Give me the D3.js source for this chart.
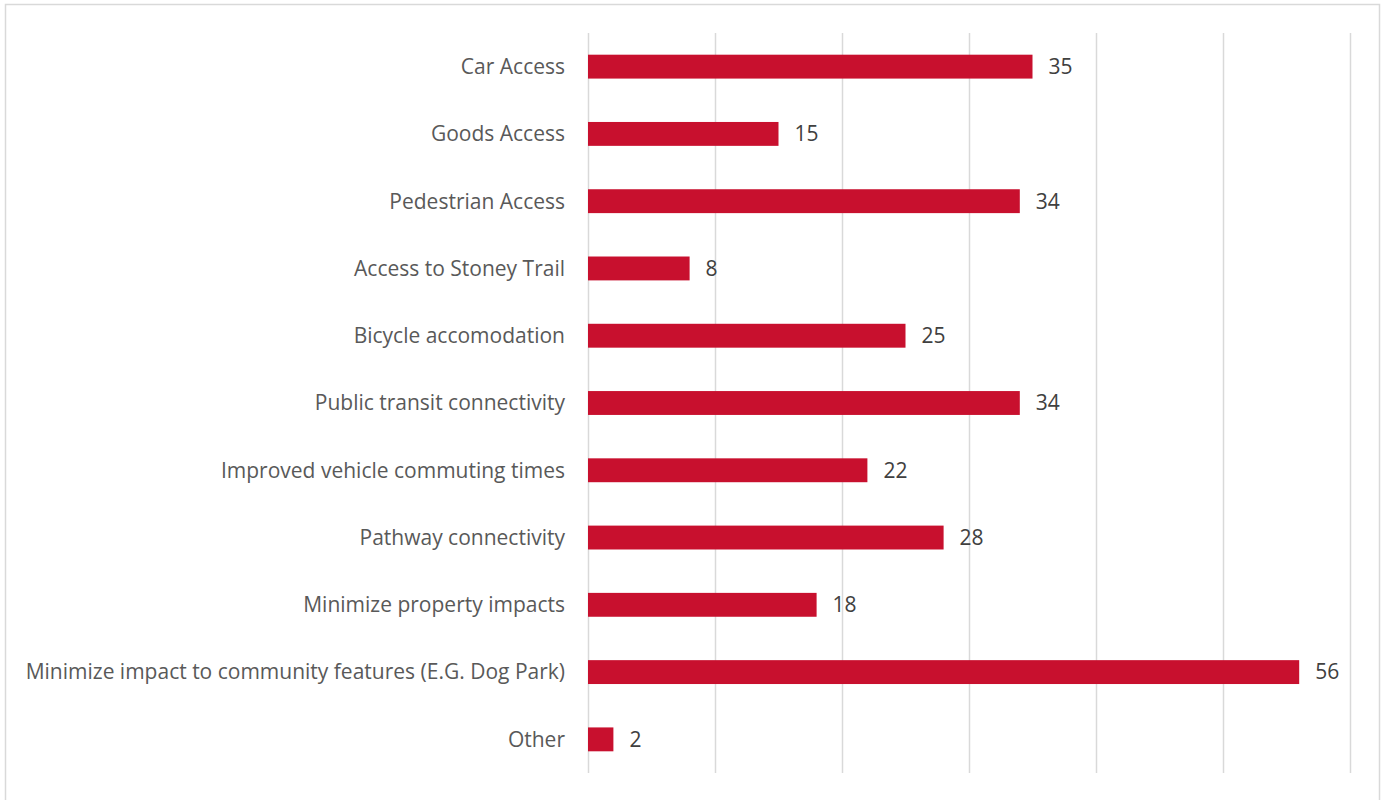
<!DOCTYPE html>
<html>
<head>
<meta charset="utf-8">
<script src="https://cdn.jsdelivr.net/npm/d3@7"></script>
<style>
  html, body { margin: 0; padding: 0; background: #fff; }
  svg { display: block; }
</style>
</head>
<body>
<svg id="chart" width="1383" height="800"></svg>
<script>
const categories = [
  "Car Access",
  "Goods Access",
  "Pedestrian Access",
  "Access to Stoney Trail",
  "Bicycle accomodation",
  "Public transit connectivity",
  "Improved vehicle commuting times",
  "Pathway connectivity",
  "Minimize property impacts",
  "Minimize impact to community features (E.G. Dog Park)",
  "Other"
];
const values = [35, 15, 34, 8, 25, 34, 22, 28, 18, 56, 2];
const xTicks = [0, 10, 20, 30, 40, 50, 60];

const svg = d3.select("#chart");
const font = "'Open Sans', 'DejaVu Sans', sans-serif";

// chart border
svg.append("rect")
  .attr("x", 5.5).attr("y", 4.5)
  .attr("width", 1374).attr("height", 800)
  .attr("fill", "#fff")
  .attr("stroke", "#d9d9d9").attr("stroke-width", 1.5);

const plotL = 588, plotR = 1350, plotT = 33, plotB = 773;

const x = d3.scaleLinear().domain([0, 60]).range([plotL, plotR]);
const y = d3.scaleBand().domain(categories).range([plotT, plotB]).paddingInner(0.645).paddingOuter(0.3225);

// gridlines
svg.append("g")
  .selectAll("line")
  .data(xTicks)
  .join("line")
  .attr("x1", d => Math.round(x(d)) + 0.5)
  .attr("x2", d => Math.round(x(d)) + 0.5)
  .attr("y1", plotT).attr("y2", plotB)
  .attr("stroke", "#d9d9d9").attr("stroke-width", 1.5);

// bars
svg.append("g")
  .selectAll("rect")
  .data(values)
  .join("rect")
  .attr("x", x(0))
  .attr("y", (d, i) => y(categories[i]))
  .attr("width", d => x(d) - x(0))
  .attr("height", y.bandwidth())
  .attr("fill", "#c8102e");

// category labels
svg.append("g")
  .selectAll("text")
  .data(categories)
  .join("text")
  .attr("x", 565)
  .attr("y", d => y(d) + y.bandwidth() / 2)
  .attr("dy", "0.35em")
  .attr("text-anchor", "end")
  .attr("font-family", font)
  .attr("font-size", 21)
  .attr("fill", "#595959")
  .text(d => d);

// value labels
svg.append("g")
  .selectAll("text")
  .data(values)
  .join("text")
  .attr("x", d => x(d) + 16)
  .attr("y", (d, i) => y(categories[i]) + y.bandwidth() / 2)
  .attr("dy", "0.35em")
  .attr("font-family", font)
  .attr("font-size", 21)
  .attr("fill", "#404040")
  .text(d => d);
</script>
</body>
</html>
